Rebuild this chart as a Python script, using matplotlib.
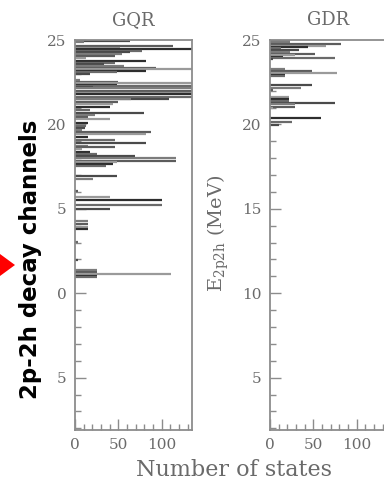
import matplotlib
matplotlib.use("Agg")
import matplotlib.pyplot as plt
from matplotlib.patches import Polygon
from matplotlib.ticker import MultipleLocator, FixedLocator

# ---- data ----
panel_titles = ["GQR", "GDR"]

gqr_energy = [24.96, 24.86, 24.64, 24.55, 24.45, 24.37, 24.27, 24.17, 24.05, 23.92,
              23.78, 23.66, 23.56, 23.48, 23.36, 23.28, 23.19, 23.13, 22.99, 22.63,
              22.53, 22.44, 22.34, 22.28, 22.20, 22.14, 22.00, 21.88, 21.78, 21.65,
              21.53, 21.49, 21.35, 21.21, 21.06, 20.86, 20.66, 20.56, 20.42, 20.31,
              20.07, 19.91, 19.77, 19.64, 19.54, 19.42, 19.28, 19.08, 18.89, 18.75,
              18.69, 18.55, 18.39, 18.25, 18.14, 18.00, 17.86, 17.76, 17.66, 17.56,
              16.97, 16.76, 16.03, 15.73, 15.53, 15.20, 14.98, 14.25, 14.11, 13.95,
              13.80, 13.01, 11.98, 11.35, 11.25, 11.15, 11.05, 10.97]
gqr_count = [63, 10, 113, 52, 150, 77, 63, 54, 46, 13,
             82, 46, 33, 56, 94, 150, 82, 48, 17, 6,
             50, 150, 48, 150, 21, 150, 150, 150, 150, 150,
             109, 65, 50, 44, 40, 17, 80, 23, 15, 40,
             15, 13, 11, 8, 88, 82, 15, 46, 82, 15,
             46, 8, 17, 25, 69, 117, 117, 48, 44, 36,
             48, 21, 4, 40, 100, 100, 40, 15, 15, 15,
             15, 3, 3, 25, 25, 111, 25, 25]

gdr_energy = [24.96, 24.86, 24.74, 24.64, 24.61, 24.51, 24.41, 24.31, 24.17, 24.11,
              24.01, 23.92, 23.86, 23.26, 23.17, 23.03, 22.93, 22.87, 22.34, 22.18,
              22.04, 21.65, 21.51, 21.39, 21.29, 21.19, 21.06, 20.96, 20.36, 20.17,
              19.97]
gdr_count = [23, 23, 82, 65, 44, 13, 34, 23, 52, 29,
             15, 75, 4, 17, 48, 77, 17, 17, 48, 36,
             4, 22, 22, 22, 75, 29, 29, 4, 59, 25,
             10]

y_ticks = [5, 10, 15, 20, 25]
gqr_ytick_labels = ["5", "0", "5", "20", "25"]   # as visible in the picture
gdr_ytick_labels = ["5", "10", "15", "20", "25"]
x_ticks = [0, 50, 100]
x_tick_labels = ["0", "50", "100"]

x_label = "Number of states"
y_label = r"E$_{\rm 2p2h}$ (MeV)"
annotation = "2p-2h decay channels"

# ---- style ----
plt.rcParams["mathtext.fontset"] = "dejavuserif"
plt.rcParams["font.family"] = ["DejaVu Serif"]
spine_col = "#8c8c8c"
text_col = "#6a6a6a"
shades = ["#4a4a4a", "#7c7c7c", "#5c5c5c", "#9a9a9a", "#2e2e2e", "#6a6a6a"]

W, H = 384, 492
fig = plt.figure(figsize=(W / 100, H / 100), dpi=100)

ax_w = 117 / W
ax_b = 1 - 430 / H
ax_h = (430 - 40) / H
ax1 = fig.add_axes([75 / W, ax_b, ax_w, ax_h])
ax2 = fig.add_axes([270 / W, ax_b, ax_w, ax_h])


def style(ax, energies, counts, ylabels, title):
    cols = [shades[i % len(shades)] for i in range(len(energies))]
    ax.hlines(energies, 0, counts, colors=cols, linewidth=1.6)
    ax.set_xlim(0, 135)
    ax.set_ylim(1.9, 25)
    ax.yaxis.set_major_locator(FixedLocator(y_ticks))
    ax.set_yticklabels(ylabels)
    ax.yaxis.set_minor_locator(MultipleLocator(1))
    ax.xaxis.set_major_locator(FixedLocator(x_ticks))
    ax.set_xticklabels(x_tick_labels)
    ax.xaxis.set_minor_locator(MultipleLocator(10))
    ax.tick_params(which="both", direction="in", color=spine_col, width=1.0,
                   labelcolor=text_col, labelsize=11, pad=6,
                   top=False, right=False)
    ax.tick_params(which="major", length=8)
    ax.tick_params(which="minor", length=4)
    for s in ax.spines.values():
        s.set_color(spine_col)
        s.set_linewidth(1.3)
    ax.set_title(title, color=text_col, fontsize=13, pad=11)


style(ax1, gqr_energy, gqr_count, gqr_ytick_labels, panel_titles[0])
style(ax2, gdr_energy, gdr_count, gdr_ytick_labels, panel_titles[1])

fig.text(233.5 / W, 1 - 470 / H, x_label, ha="center", va="center",
         fontsize=16, color=text_col)
fig.text(218 / W, 1 - 233 / H, y_label, ha="center", va="center",
         rotation=90, fontsize=14, color=text_col)

fig.text(31 / W, 1 - 259 / H, annotation, ha="center", va="center",
         rotation=90, fontsize=16.5, fontweight="bold", color="black",
         family=["DejaVu Sans"])

tri = Polygon([[0 / W, 1 - 254 / H], [0 / W, 1 - 276 / H], [15 / W, 1 - 265 / H]],
              closed=True, transform=fig.transFigure, facecolor="#ff0000",
              edgecolor="none")
fig.add_artist(tri)

fig.savefig("out.png", dpi=100)
